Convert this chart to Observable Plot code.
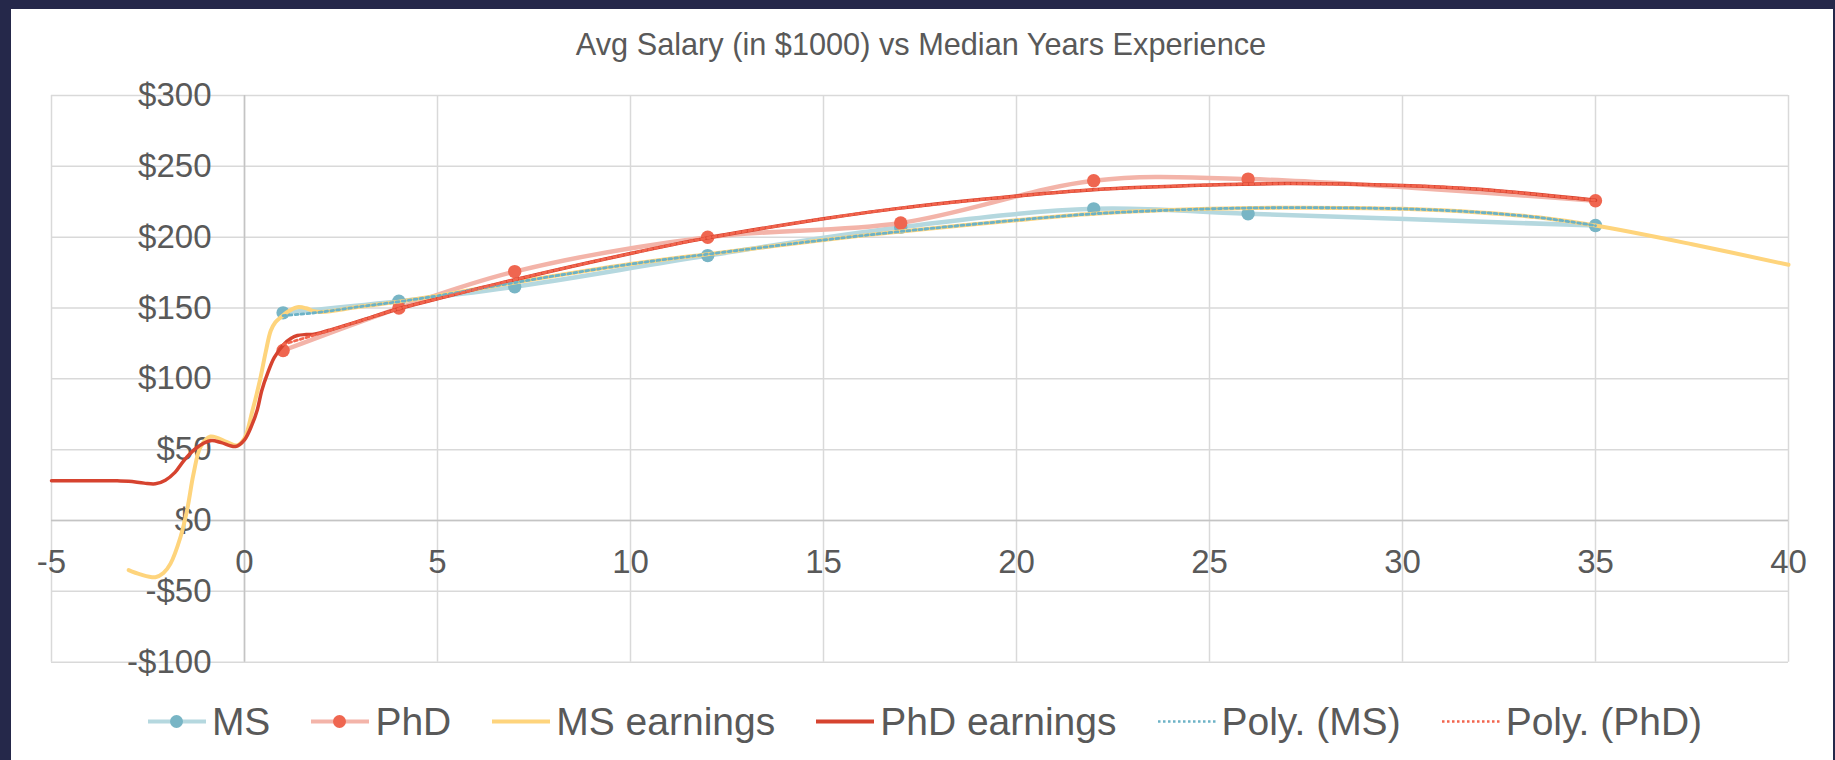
<!DOCTYPE html>
<html>
<head>
<meta charset="utf-8">
<script src="https://cdn.jsdelivr.net/npm/d3@7"></script>
<script src="https://cdn.jsdelivr.net/npm/@observablehq/plot@0.6"></script>
<style>
  html, body { margin: 0; padding: 0; }
  body { width: 1835px; height: 760px; overflow: hidden; background: #25284a; position: relative;
         font-family: "Liberation Sans", Arial, sans-serif; }
  #panel { position: absolute; left: 11px; top: 9px; width: 1822px; height: 751px; background: #fff; }
  #title { position: absolute; top: 20px; left: -1px; width: 100%; text-align: center;
           font-size: 30.7px; line-height: 31px; color: #595959; white-space: nowrap; }
  #chart { position: absolute; top: 61px; left: 0; }
  #legend { position: absolute; top: 693px; left: 0; width: 100%; display: flex; justify-content: center;
            gap: 41px; transform: translateX(3px); }
  .item { display: flex; align-items: center; height: 39px; }
  .item span { font-size: 39px; line-height: 39px; color: #595959; margin-left: 6px; white-space: nowrap; }
  .item svg { display: block; }
</style>
</head>
<body>
<div id="panel">
  <div id="title">Avg Salary (in $1000) vs Median Years Experience</div>
  <div id="chart"></div>
  <div id="legend"></div>
</div>
<script>
// ---- data ----
const xTicks = [-5, 0, 5, 10, 15, 20, 25, 30, 35, 40];
const yTicks = [-100, -50, 0, 50, 100, 150, 200, 250, 300];

const years = [1, 4, 7, 12, 17, 22, 26, 35];
const msSalary = [146.6, 154.8, 165, 187, 207, 220, 216.5, 208.2];
const phdSalary = [120, 150, 175.7, 200, 210, 239.8, 241, 225.7];

const msEarnX = [-3, -2.7, -2.31, -2.1, -1.92, -1.66, -1.49, -1.32, -1.14, -0.88, -0.45, -0.19, 0, 0.2, 0.4, 0.55, 0.68, 0.8, 0.94, 1.1, 1.37, 1.6, 1.8, 2, 3, 4, 5, 7, 10, 12, 15, 17, 20, 22, 25, 27, 30, 32, 33.5, 35, 37.5, 40];
const msEarnY = [-35, -38, -40, -37, -30.6, -11.8, 7, 33, 51.8, 59.3, 55.3, 53, 58, 77, 99, 119, 134, 140, 143.5, 147, 150.6, 149.8, 147.7, 147.2, 151, 154.5, 158.6, 168, 181, 188, 198, 204, 212, 216.5, 220, 220.8, 220, 217.5, 214, 208.2, 195, 180.5];

const phdEarnX = [-5, -4, -3.3, -3, -2.6, -2.31, -2.05, -1.8, -1.58, -1.3, -1.06, -0.85, -0.6, -0.23, 0, 0.2, 0.33, 0.45, 0.6, 0.77, 1.03, 1.2, 1.37, 1.6, 1.8, 2.0, 2.23, 3, 4, 5, 7, 10, 12, 15, 17, 20, 22, 25, 27, 30, 32, 35];
const phdEarnY = [28, 28, 28, 27.8, 26.4, 25.9, 28.5, 34, 42, 50, 54.5, 56.5, 55, 52.3, 57, 68, 78, 92, 104, 115, 124.7, 128.5, 130.6, 131.3, 131.5, 132.8, 134.6, 141, 149.5, 156.5, 170, 188.5, 199.5, 213, 220.5, 229, 233.5, 236.8, 237.8, 236.5, 233.8, 226];

const polyMsX = [1, 1.4, 2, 3, 4, 5, 7, 10, 12, 15, 17, 20, 22, 25, 27, 30, 32, 33.5, 35];
const polyMsY = [144.6, 145.5, 147.2, 151, 154.5, 158.6, 168, 181, 188, 198, 204, 212, 216.5, 220, 220.8, 220, 217.5, 214, 208.2];

const polyPhdX = [1, 2, 3, 4, 5, 7, 10, 12, 15, 17, 20, 22, 25, 27, 30, 32, 35];
const polyPhdY = [124.3, 132.5, 141, 149.5, 156.5, 170, 188.5, 199.5, 213, 220.5, 229, 233.5, 236.8, 237.8, 236.5, 233.8, 226];

// ---- styles ----
const C = {
  msLine: "#b5d8df", msDot: "#78b5c5",
  phdLine: "#f3b4a9", phdDot: "#ef6650",
  msEarn: "#fed47c", phdEarn: "#d6432f",
  polyMs: "#6cb2c6", polyPhd: "#f2644d",
  grid: "#d9d9d9", axis: "#c4c4c4", text: "#595959"
};

const pts = (xs, ys) => xs.map((x, i) => ({x, y: ys[i]}));
const ms = pts(years, msSalary);
const phd = pts(years, phdSalary);
const msEarn = pts(msEarnX, msEarnY);
const phdEarn = pts(phdEarnX, phdEarnY);
const polyMs = pts(polyMsX, polyMsY);
const polyPhd = pts(polyPhdX, polyPhdY);

const fmt = d => d < 0 ? "-$" + (-d) : "$" + d;

const chart = Plot.plot({
  width: 1822,
  height: 600,
  marginLeft: 40,
  marginRight: 45,
  marginTop: 25,
  marginBottom: 8.3,
  x: {domain: [-5, 40], axis: null},
  y: {domain: [-100, 300], axis: null},
  style: {fontFamily: "'Liberation Sans', Arial, sans-serif", background: "transparent", overflow: "visible"},
  marks: [
    Plot.gridX(xTicks, {stroke: C.grid, strokeOpacity: 1, strokeWidth: 1.5}),
    Plot.gridY(yTicks, {stroke: C.grid, strokeOpacity: 1, strokeWidth: 1.5}),
    Plot.ruleY([0], {x1: -5, x2: 40, stroke: C.axis, strokeWidth: 1.5}),
    Plot.ruleX([0], {y1: -100, y2: 300, stroke: C.axis, strokeWidth: 1.5}),
    Plot.text(yTicks, {x: 0, y: d => d, text: fmt, dx: -33, textAnchor: "end", fontSize: 33, fill: C.text}),
    Plot.text(xTicks, {x: d => d, y: 0, text: d => String(d), dy: 42, textAnchor: "middle", fontSize: 33, fill: C.text}),
    // MS
    Plot.line(ms, {x: "x", y: "y", stroke: C.msLine, strokeWidth: 4.5, curve: "catmull-rom"}),
    Plot.dot(ms, {x: "x", y: "y", r: 6.7, fill: C.msDot, stroke: "none"}),
    // PhD
    Plot.line(phd, {x: "x", y: "y", stroke: C.phdLine, strokeWidth: 4.5, curve: "catmull-rom"}),
    Plot.dot(phd, {x: "x", y: "y", r: 6.7, fill: C.phdDot, stroke: "none"}),
    // earnings
    Plot.line(msEarn, {x: "x", y: "y", stroke: C.msEarn, strokeWidth: 4, curve: "catmull-rom"}),
    Plot.line(phdEarn, {x: "x", y: "y", stroke: C.phdEarn, strokeWidth: 3.5, curve: "catmull-rom"}),
    // trendlines
    Plot.line(polyMs, {x: "x", y: "y", stroke: C.polyMs, strokeWidth: 2.8, strokeDasharray: "2.8,3.2", curve: "catmull-rom"}),
    Plot.line(polyPhd, {x: "x", y: "y", stroke: C.polyPhd, strokeWidth: 2.8, strokeDasharray: "2.8,3.2", curve: "catmull-rom"})
  ]
});
document.getElementById("chart").appendChild(chart);

// ---- legend ----
const legendItems = [
  {label: "MS", color: C.msLine, dot: C.msDot},
  {label: "PhD", color: C.phdLine, dot: C.phdDot},
  {label: "MS earnings", color: C.msEarn},
  {label: "PhD earnings", color: C.phdEarn},
  {label: "Poly. (MS)", color: C.polyMs, dash: true},
  {label: "Poly. (PhD)", color: C.polyPhd, dash: true}
];
const legend = document.getElementById("legend");
for (const it of legendItems) {
  const div = document.createElement("div");
  div.className = "item";
  const sw = it.dash ? 2.5 : 4;
  const dash = it.dash ? ' stroke-dasharray="2.5,2.5"' : "";
  let svg = `<svg width="58" height="39"><line x1="0" x2="58" y1="19.5" y2="19.5" stroke="${it.color}" stroke-width="${sw}"${dash}/>`;
  if (it.dot) svg += `<circle cx="28.5" cy="19.5" r="6.5" fill="${it.dot}"/>`;
  svg += `</svg>`;
  div.innerHTML = svg + `<span>${it.label}</span>`;
  legend.appendChild(div);
}
</script>
</body>
</html>
